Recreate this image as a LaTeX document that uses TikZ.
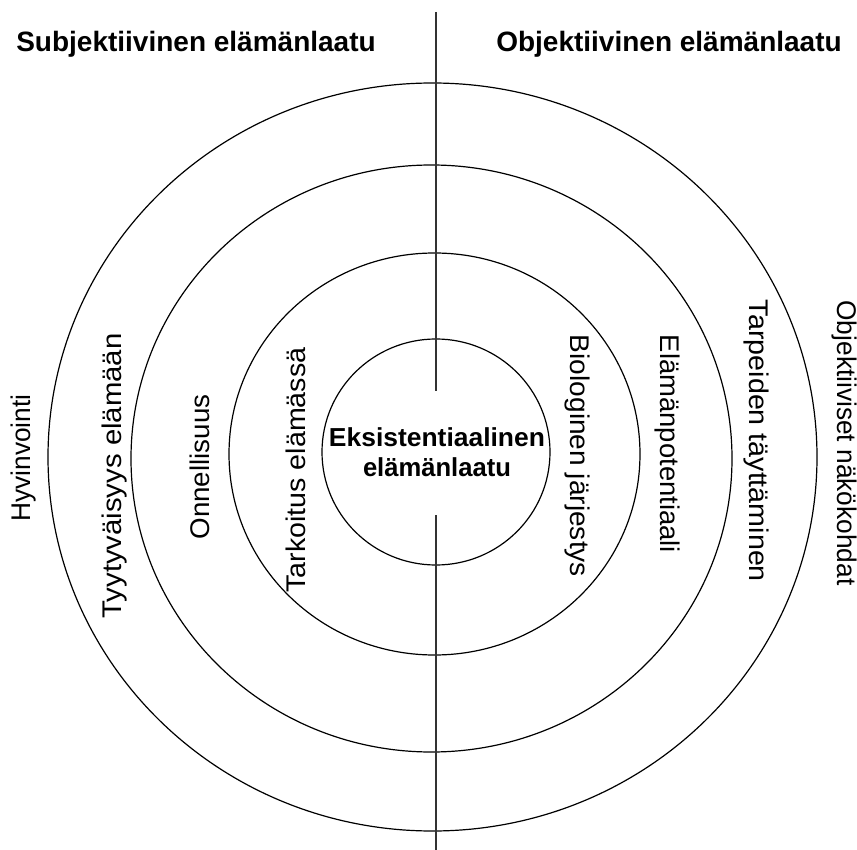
\documentclass[tikz,border=0pt]{standalone}
\usepackage{fontspec}
\setmainfont{Liberation Sans}
\usetikzlibrary{shapes.geometric}
\newcommand\fitw[2]{\resizebox{#1pt}{\height}{#2}}
\begin{document}
\begin{tikzpicture}[x=1pt,y=-1pt,
  ring/.style={draw=black, line width=1.2pt, ellipse, inner sep=0pt, outer sep=0pt},
  axisline/.style={draw=black!80, line width=1.5pt},
  lbl/.style={inner sep=0pt, font=\fontsize{27}{32}\selectfont},
  ttl/.style={inner sep=0pt, anchor=base, font=\fontsize{28}{32}\selectfont\bfseries},
  ctr/.style={inner sep=0pt, anchor=base, font=\fontsize{26}{30}\selectfont\bfseries}]
\useasboundingbox (0,0) rectangle (857,850);
% rings
\node[ring, minimum width=769pt, minimum height=748pt] (r1) at (432.5,457) {};
\node[ring, minimum width=601pt, minimum height=587pt] (r2) at (431.5,458.5) {};
\node[ring, minimum width=411pt, minimum height=402pt] (r3) at (434.5,454) {};
\node[ring, minimum width=228pt, minimum height=226pt] (r4) at (436,452) {};
% dividing line
\coordinate (ltop) at (436,12);
\coordinate (lmid1) at (436,391);
\coordinate (lmid2) at (436,515);
\coordinate (lbot) at (436,850);
\draw[axisline] (ltop) -- (lmid1);
\draw[axisline] (lmid2) -- (lbot);
% titles
\node[ttl] (subj) at (196,52) {Subjektiivinen elämänlaatu};
\node[ttl] (obj) at (669,52) {Objektiivinen elämänlaatu};
% centre
\node[ctr] (eks1) at (437,446) {\fitw{216}{Eksistentiaalinen}};
\node[ctr] (eks2) at (437,476) {\fitw{148}{elämänlaatu}};
% left labels
\node[lbl, rotate=90] (hyv) at (24,458) {\fitw{127}{Hyvinvointi}};
\node[lbl, rotate=90] (tyy) at (115,476) {\fitw{285}{Tyytyväisyys elämään}};
\node[lbl, rotate=90] (onn) at (200,467) {\fitw{145}{Onnellisuus}};
\node[lbl, rotate=90] (tar) at (296,470) {\fitw{245}{Tarkoitus elämässä}};
% right labels
\node[lbl, rotate=-90] (bio) at (577,456) {\fitw{242}{Biologinen järjestys}};
\node[lbl, rotate=-90] (ela) at (667,444) {\fitw{218}{Elämänpotentiaali}};
\node[lbl, rotate=-90] (tarp) at (756,441) {\fitw{282}{Tarpeiden täyttäminen}};
\node[lbl, rotate=-90] (objn) at (844,443) {\fitw{285}{Objektiiviset näkökohdat}};
\end{tikzpicture}
\end{document}
